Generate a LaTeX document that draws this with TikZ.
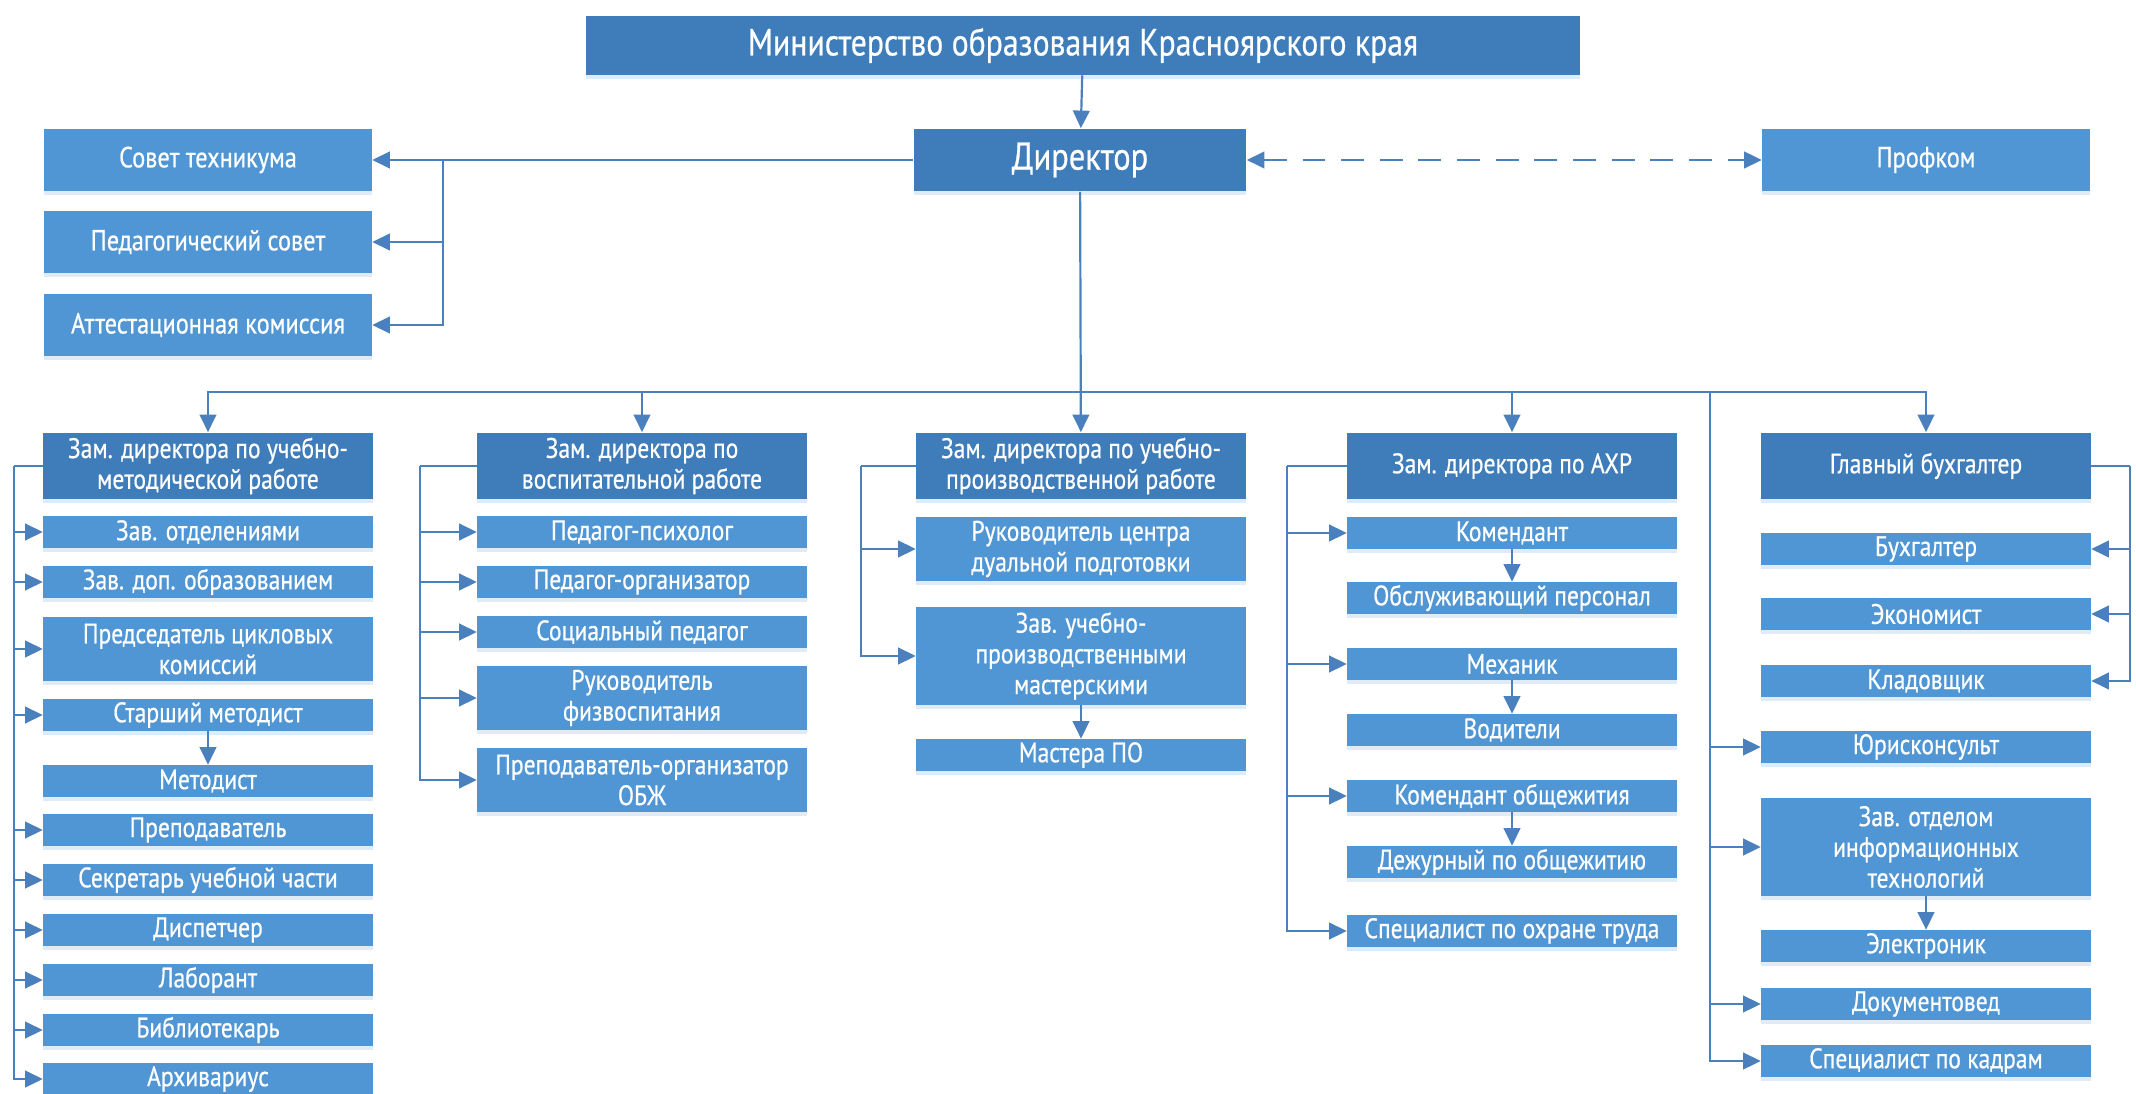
\documentclass[tikz,border=0pt]{standalone}
\usepackage{fontspec}
\setmainfont[FakeStretch=0.84,FakeBold=0.6]{PT Sans}
\usetikzlibrary{arrows.meta,shadows}
\definecolor{dk}{HTML}{3E7CBA}
\definecolor{lt}{HTML}{5096D4}
\definecolor{lnc}{HTML}{4A80BE}

\begin{document}
\begin{tikzpicture} [x=0.02cm,y=-0.02cm,
    bx/.style={fill=#1,text=white,inner sep=0pt,align=center,font=\fontsize{16}{17.5}\selectfont,
      drop shadow={shadow xshift=0pt,shadow yshift=-2pt,opacity=.18,fill=lt}},
    hd/.style={bx=dk,minimum width=6.6cm,minimum height=1.34cm},
    sb/.style={bx=lt,minimum width=6.6cm,minimum height=#1},
    sb/.default=0.64cm,
    top/.style={bx=lt,minimum width=6.56cm,minimum height=1.26cm,font=\fontsize{16.5}{19}\selectfont},
    link/.style={draw=lnc,line width=1.25pt},
    arr/.style={link,-{Triangle[length=10pt,width=9.5pt]}}]
  \useasboundingbox (0,0) rectangle (2136,1094);

  \node [bx=dk,minimum width=19.88cm,minimum height=1.18cm,font=\fontsize{21.5}{24}\selectfont] (min) at (1083,45.5) {Министерство образования Красноярского края};
  \node [bx=dk,minimum width=6.66cm,minimum height=1.26cm,font=\fontsize{22}{26}\selectfont] (dir) at (1080,160) {Директор};
  \node [top] (prof) at (1926,160) {Профком};
  \node [top] (sov) at (208,160) {Совет техникума};
  \node [top] (ped) at (208,242) {Педагогический совет};
  \node [top] (att) at (208,325) {Аттестационная комиссия};

  \node [hd] (c1) at (208,466) {Зам. директора по учебно-\\методической работе};
  \node [sb] (c1a) at (208,532) {Зав. отделениями};
  \node [sb] (c1b) at (208,582) {Зав. доп. образованием};
  \node [sb=1.3cm] (c1c) at (208,649) {Председатель цикловых\\комиссий};
  \node [sb] (c1d) at (208,715) {Старший методист};
  \node [sb] (c1e) at (208,781) {Методист};
  \node [sb] (c1f) at (208,830) {Преподаватель};
  \node [sb] (c1g) at (208,880) {Секретарь учебной части};
  \node [sb] (c1h) at (208,930) {Диспетчер};
  \node [sb] (c1i) at (208,980) {Лаборант};
  \node [sb] (c1j) at (208,1030) {Библиотекарь};
  \node [sb] (c1k) at (208,1079) {Архивариус};

  \node [hd] (c2) at (642,466) {Зам. директора по\\воспитательной работе};
  \node [sb] (c2a) at (642,532) {Педагог-психолог};
  \node [sb] (c2b) at (642,582) {Педагог-организатор};
  \node [sb] (c2c) at (642,632) {Социальный педагог};
  \node [sb=1.28cm] (c2d) at (642,698) {Руководитель\\физвоспитания};
  \node [sb=1.28cm] (c2e) at (642,780) {Преподаватель-организатор\\ОБЖ};

  \node [hd] (c3) at (1081,466) {Зам. директора по учебно-\\производственной работе};
  \node [sb=1.28cm] (c3a) at (1081,549) {Руководитель центра\\дуальной подготовки};
  \node [sb=1.96cm] (c3b) at (1081,656) {Зав. учебно-\\производственными\\мастерскими};
  \node [sb] (c3c) at (1081,755) {Мастера ПО};

  \node [hd] (c4) at (1512,466) {Зам. директора по АХР};
  \node [sb] (c4a) at (1512,533) {Комендант};
  \node [sb] (c4b) at (1512,598) {Обслуживающий персонал};
  \node [sb] (c4c) at (1512,664) {Механик};
  \node [sb] (c4d) at (1512,730) {Водители};
  \node [sb] (c4e) at (1512,796) {Комендант общежития};
  \node [sb] (c4f) at (1512,862) {Дежурный по общежитию};
  \node [sb] (c4g) at (1512,931) {Специалист по охране труда};

  \node [hd] (c5) at (1926,466) {Главный бухгалтер};
  \node [sb] (c5a) at (1926,549) {Бухгалтер};
  \node [sb] (c5b) at (1926,614) {Экономист};
  \node [sb] (c5c) at (1926,681) {Кладовщик};
  \node [sb] (c5d) at (1926,747) {Юрисконсульт};
  \node [sb=1.96cm] (c5e) at (1926,847) {Зав. отделом\\информационных\\технологий};
  \node [sb] (c5f) at (1926,946) {Электроник};
  \node [sb] (c5g) at (1926,1004) {Документовед};
  \node [sb] (c5h) at (1926,1061) {Специалист по кадрам};

  \draw [arr] (min) -- (dir);
  \draw [arr] (dir) -- (sov);
  \coordinate (k0) at (443,160);
  \draw [arr] (k0) |- (ped);
  \draw [arr] (k0) |- (att);
  \draw [link,dashed,dash pattern=on 13pt off 9pt,{Triangle[length=10pt,width=9.5pt]}-{Triangle[length=10pt,width=9.5pt]}] (dir) -- (prof);

  \coordinate (bus) at (1080,392);
  \draw [arr] (dir) -- (c3);
  \draw [arr] (bus) -| (c1);
  \draw [arr] (bus) -| (c2);
  \draw [arr] (bus) -| (c4);
  \draw [arr] (bus) -| (c5);

  \coordinate (l1) at (14,466);
  \draw [link] (c1) -- (l1);
  \foreach \n in {a,b,c,d,f,g,h,i,j,k}
    \draw [arr] (l1) |- (c1\n);
  \draw [arr] (c1d) -- (c1e);

  \coordinate (l2) at (420,466);
  \draw [link] (c2) -- (l2);
  \foreach \n in {a,b,c,d,e}
    \draw [arr] (l2) |- (c2\n);

  \coordinate (l3) at (861,466);
  \draw [link] (c3) -- (l3);
  \foreach \n in {a,b}
    \draw [arr] (l3) |- (c3\n);
  \draw [arr] (c3b) -- (c3c);

  \coordinate (l4) at (1287,466);
  \draw [link] (c4) -- (l4);
  \foreach \n in {a,c,e,g}
    \draw [arr] (l4) |- (c4\n);
  \draw [arr] (c4a) -- (c4b);
  \draw [arr] (c4c) -- (c4d);
  \draw [arr] (c4e) -- (c4f);

  \coordinate (r5) at (2130,466);
  \draw [link] (c5) -- (r5);
  \foreach \n in {a,b,c}
    \draw [arr] (r5) |- (c5\n);
  \coordinate (l5) at (1710,392);
  \foreach \n in {d,e,g,h}
    \draw [arr] (l5) |- (c5\n);
  \draw [arr] (c5e) -- (c5f);
\end{tikzpicture}
\end{document}
